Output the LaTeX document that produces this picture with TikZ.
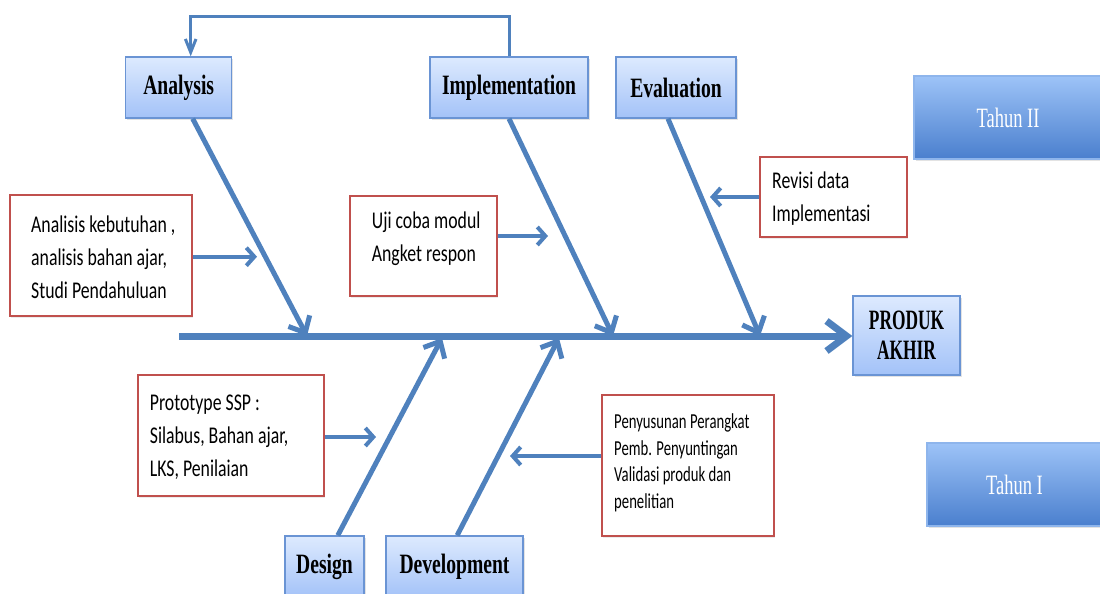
\documentclass[tikz,border=0pt]{standalone}
\usepackage{fontspec}
\setmainfont{Liberation Serif}
\newfontfamily\hdfont[FakeStretch=0.70]{Liberation Serif}
\newfontfamily\prfont[FakeStretch=0.62]{Liberation Serif}
\newfontfamily\thfont[FakeStretch=0.66]{Liberation Serif}
\newfontfamily\bdfont[FakeStretch=0.74]{Carlito}
\newfontfamily\smfont[FakeStretch=0.69]{Carlito}
\usetikzlibrary{arrows.meta,shadows,calc}
\definecolor{bone}{HTML}{4F81BD}
\definecolor{hdtop}{HTML}{DDEAFE}
\definecolor{hdbot}{HTML}{A3C2F8}
\definecolor{hdline}{HTML}{6A94D4}
\definecolor{thtop}{HTML}{9DC3F7}
\definecolor{thbot}{HTML}{4A7FCE}
\definecolor{redline}{HTML}{C0504D}
\begin{document}
\begin{tikzpicture}[x=0.75pt,y=-0.75pt,
 hdbox/.style={draw=hdline,line width=1pt,top color=hdtop,bottom color=hdbot,
   font=\hdfont\bfseries\fontsize{21}{25}\selectfont,inner sep=0pt,align=center,
   drop shadow={shadow xshift=1.2pt,shadow yshift=-1.8pt,opacity=.18,fill=black!60}},
 thbox/.style={draw=thtop!70!hdline,line width=0.8pt,top color=thtop,bottom color=thbot,
   font=\thfont\fontsize{21}{25}\selectfont,text=white,inner sep=0pt,
   drop shadow={shadow xshift=1.2pt,shadow yshift=-1.8pt,opacity=.18,fill=black!60}},
 redbox/.style={draw=redline,line width=1.6pt,fill=white,inner sep=0pt,
   drop shadow={shadow xshift=1pt,shadow yshift=-1.5pt,opacity=.12,fill=black!60}},
 bodytxt/.style={align=left,inner sep=0pt,anchor=west,font=\bdfont\fontsize{18}{24.75}\selectfont},
 smtxt/.style={align=left,inner sep=0pt,anchor=west,font=\smfont\fontsize{16}{20}\selectfont},
 bonel/.style={draw=bone,line width=3.75pt,-{Straight Barb[length=10pt,width=18pt]}},
 spine/.style={draw=bone,line width=5.25pt,-{Straight Barb[length=15pt,width=22.5pt]}},
 sidearr/.style={draw=bone,line width=3pt,-{Straight Barb[length=6pt,width=13.5pt]}},
 fbarr/.style={draw=bone,line width=2.25pt,-{Straight Barb[length=10pt,width=8pt]}},
]
\useasboundingbox (0,0) rectangle (1100,593);
\clip (0,0) rectangle (1100,593);

% header boxes
\node[hdbox,minimum width=79.5pt,minimum height=45.75pt] (ana) at (178.7,87.5) {Analysis};
\node[hdbox,minimum width=118.5pt,minimum height=45.75pt] (imp) at (509,87.5) {Implementation};
\node[hdbox,minimum width=90pt,minimum height=45.75pt] (eva) at (676,87.5) {Evaluation};
\node[hdbox,minimum width=80.25pt,minimum height=59.25pt,font=\prfont\bfseries\fontsize{21}{22.5}\selectfont] (prod) at (906.5,335.5) {PRODUK\\AKHIR};
\node[hdbox,minimum width=59.25pt,minimum height=46.5pt] (des) at (324.5,567) {\raisebox{3.75pt}{Design}};
\node[hdbox,minimum width=102.75pt,minimum height=46.5pt] (dev) at (454.5,567) {\raisebox{3.75pt}{Development}};

% year boxes
\node[thbox,minimum width=141pt,minimum height=62.25pt] (th2) at (1008,117.5) {Tahun II};
\node[thbox,minimum width=131.25pt,minimum height=62.25pt] (th1) at (1014.5,484.5) {Tahun I};

% red boxes
\node[redbox,minimum width=136.5pt,minimum height=90.75pt] (b1) at (101,255.5) {};
\node[bodytxt] (t1) at ([xshift=16.5pt,yshift=-1pt]b1.west) {Analisis kebutuhan ,\\analisis bahan ajar,\\Studi Pendahuluan};
\node[redbox,minimum width=110.25pt,minimum height=75pt] (b2) at (423.5,246) {};
\node[bodytxt] (t2) at ([xshift=17pt,yshift=5.25pt]b2.west) {Uji coba modul\\Angket respon};
\node[redbox,minimum width=110.25pt,minimum height=60pt] (b3) at (833.5,197) {};
\node[bodytxt] (t3) at ([xshift=9.75pt,yshift=-1.5pt]b3.west) {Revisi data\\Implementasi};
\node[redbox,minimum width=139.5pt,minimum height=90.75pt] (b4) at (231,435.5) {};
\node[bodytxt] (t4) at ([xshift=9.5pt,yshift=-1pt]b4.west) {Prototype SSP :\\Silabus, Bahan ajar,\\LKS, Penilaian};
\node[redbox,minimum width=129pt,minimum height=105.75pt] (b5) at (688,465.5) {};
\node[smtxt] (t5) at ([xshift=9.75pt,yshift=2pt]b5.west) {Penyusunan Perangkat\\Pemb. Penyuntingan\\Validasi produk dan\\penelitian};

% spine
\coordinate (s0) at (179,336);
\draw[spine] (s0) -- (prod.west |- s0);

% bones
\coordinate (ta) at (307,336);
\coordinate (ti) at (613,336);
\coordinate (te) at (760,336);
\coordinate (td) at (442,338);
\coordinate (tv) at (559,338);
\draw[bonel] ([xshift=10.5pt]ana.south) -- (ta);
\draw[bonel] (imp.south) -- (ti);
\draw[bonel] ([xshift=-6pt]eva.south) -- (te);
\draw[bonel] ([xshift=10pt]des.north) -- (td);
\draw[bonel] ([xshift=2pt]dev.north) -- (tv);

% side arrows
\coordinate (e1) at (257,256.7);
\coordinate (e2) at (548,236);
\coordinate (e3) at (710,197);
\coordinate (e4) at (376,437);
\coordinate (e5) at (510,456);
\draw[sidearr] (b1.east |- e1) -- (e1);
\draw[sidearr] (b2.east |- e2) -- (e2);
\draw[sidearr] (b3.west |- e3) -- (e3);
\draw[sidearr] (b4.east |- e4) -- (e4);
\draw[sidearr] (b5.west |- e5) -- (e5);

% feedback
\draw[fbarr] (imp.north) -- ++(0,-40) -| ([xshift=9pt]ana.north);
\end{tikzpicture}
\end{document}
